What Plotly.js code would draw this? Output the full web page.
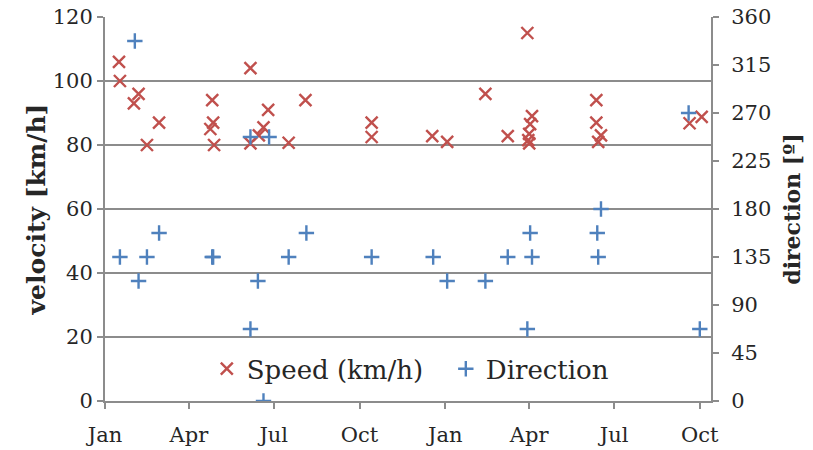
<!DOCTYPE html>
<html>
<head>
<meta charset="utf-8">
<script src="https://cdn.plot.ly/plotly-3.0.1.min.js"></script>
<style>
  html, body { margin: 0; padding: 0; background: #ffffff; }
  #chart { width: 813px; height: 450px; }
</style>
</head>
<body>
<div id="chart"></div>
<script>
// Wind observations: speed (left axis) and direction (right axis)
const speedDates = [
  '2013-01-16', '2013-01-17', '2013-02-06', '2013-02-01', '2013-02-28', '2013-02-15',
  '2013-04-26', '2013-04-27', '2013-04-24', '2013-04-28',
  '2013-06-06', '2013-06-25', '2013-06-20', '2013-06-15', '2013-06-06',
  '2013-07-17', '2013-08-04', '2013-10-14', '2013-10-14', '2013-12-18',
  '2014-01-03', '2014-02-13', '2014-03-09', '2014-03-30',
  '2014-04-04', '2014-04-02', '2014-04-01', '2014-03-31', '2014-04-01',
  '2014-06-12', '2014-06-12', '2014-06-17', '2014-06-14',
  '2014-09-20', '2014-10-03'
];
const speedValues = [
  106, 100, 96, 93, 87, 80,
  94, 87, 85, 80,
  104, 91, 85.5, 83, 80.5,
  80.7, 94, 87, 82.5, 82.8,
  81, 96, 82.8, 115,
  89, 86.5, 83.5, 81.5, 80.5,
  94, 87, 83, 81,
  86.8, 88.8
];

const dirDates = [
  '2013-02-02', '2013-01-17', '2013-02-15', '2013-02-28', '2013-02-06',
  '2013-04-26', '2013-04-27', '2013-06-14', '2013-06-06', '2013-07-17',
  '2013-08-05', '2013-06-20', '2013-06-06', '2013-06-26', '2013-10-14',
  '2013-12-19', '2014-01-03', '2014-02-13', '2014-03-09', '2014-04-02',
  '2014-04-04', '2014-03-30', '2014-09-19', '2014-06-17', '2014-06-13',
  '2014-06-14', '2014-10-01'
];
const dirValues = [
  337.5, 135, 135, 157.5, 112.5,
  135, 135, 112.5, 67.5, 135,
  157.5, 0, 247.5, 247.5, 135,
  135, 112.5, 112.5, 135, 157.5,
  135, 67.5, 270, 180, 157.5,
  135, 67.5
];

const monthTicks = [
  '2013-01-01', '2013-04-01', '2013-07-01', '2013-10-01',
  '2014-01-01', '2014-04-01', '2014-07-01', '2014-10-01'
];
const monthLabels = ['Jan', 'Apr', 'Jul', 'Oct', 'Jan', 'Apr', 'Jul', 'Oct'];

const speedTicks = [0, 20, 40, 60, 80, 100, 120];
const dirTicks = [0, 45, 90, 135, 180, 225, 270, 315, 360];

const FONT = 'DejaVu Serif';
const GREY = '#8c8c8c';
const TEXT = '#262626';

const traces = [
  {
    type: 'scatter', mode: 'markers', name: 'Speed (km/h)',
    x: speedDates, y: speedValues, yaxis: 'y',
    marker: { symbol: 'x-thin-open', size: 12, color: '#C0504D',
              line: { color: '#C0504D', width: 2.4 } }
  },
  {
    type: 'scatter', mode: 'markers', name: 'Direction',
    x: dirDates, y: dirValues, yaxis: 'y2',
    marker: { symbol: 'cross-thin-open', size: 11, color: '#4F81BD',
              line: { color: '#4F81BD', width: 2.4 } }
  }
];

const layout = {
  width: 813, height: 450,
  margin: { l: 105, r: 102, t: 17, b: 49, pad: 0 },
  paper_bgcolor: '#ffffff', plot_bgcolor: '#ffffff',
  font: { family: FONT, color: TEXT, size: 21 },
  showlegend: true,
  legend: {
    orientation: 'h', x: 0.168, y: 0.145, xanchor: 'left', yanchor: 'top',
    bgcolor: 'rgba(255,255,255,0)', borderwidth: 0,
    entrywidth: 194, entrywidthmode: 'pixels',
    font: { family: FONT, size: 26, color: TEXT },
    itemclick: false
  },
  xaxis: {
    type: 'date',
    range: ['2013-01-01', '2014-10-13'],
    tickmode: 'array', tickvals: monthTicks, ticktext: monthLabels,
    showgrid: false, zeroline: false,
    showline: true, linecolor: GREY, linewidth: 2,
    ticks: 'outside', ticklen: 6, tickwidth: 2, tickcolor: GREY,
    ticklabelstandoff: 8,
    tickfont: { family: FONT, size: 21, color: TEXT }
  },
  yaxis: {
    range: [0, 120], tickmode: 'array', tickvals: speedTicks,
    showgrid: true, gridcolor: GREY, gridwidth: 2, zeroline: false,
    showline: true, linecolor: GREY, linewidth: 2,
    ticks: 'outside', ticklen: 6, tickwidth: 2, tickcolor: GREY,
    tickfont: { family: FONT, size: 21, color: TEXT },
    title: { text: '<b>velocity [km/h]</b>', font: { family: FONT, size: 25, color: TEXT }, standoff: 0 }
  },
  yaxis2: {
    overlaying: 'y', side: 'right',
    range: [0, 360], tickmode: 'array', tickvals: dirTicks,
    showgrid: false, zeroline: false,
    showline: true, linecolor: GREY, linewidth: 2,
    ticks: 'outside', ticklen: 6, tickwidth: 2, tickcolor: GREY,
    ticklabelstandoff: 8,
    tickfont: { family: FONT, size: 21, color: TEXT },
    title: { text: '<b>direction [º]</b>', font: { family: FONT, size: 22, color: TEXT }, standoff: 14 }
  }
};

Plotly.newPlot('chart', traces, layout, { displayModeBar: false, staticPlot: true });
</script>
</body>
</html>
